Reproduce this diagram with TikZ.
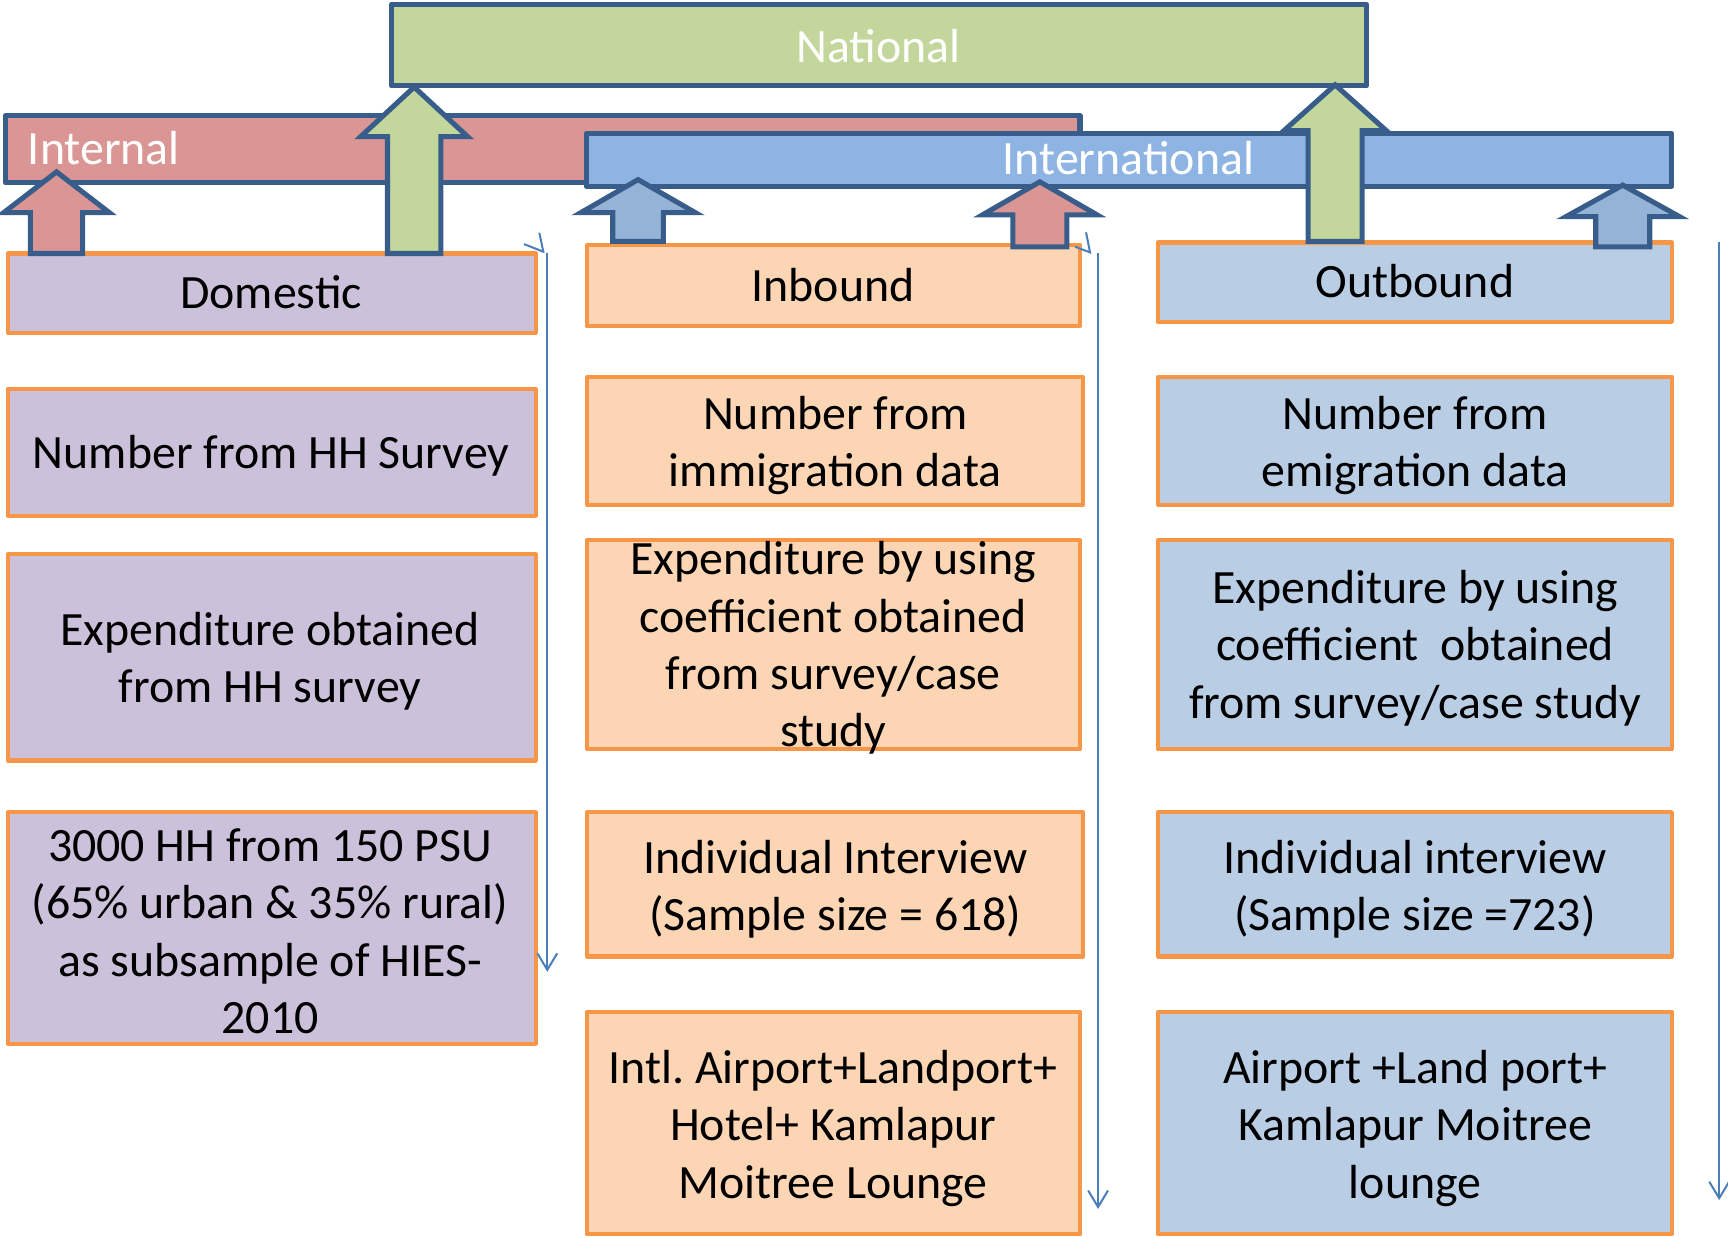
\documentclass[tikz,border=0pt]{standalone}
\usepackage{fontspec}
\setmainfont{Carlito}
\usetikzlibrary{arrows.meta}
\frenchspacing
\definecolor{dkb}{HTML}{385D8A}
\definecolor{org}{HTML}{F79646}
\definecolor{natg}{HTML}{C3D69B}
\definecolor{intr}{HTML}{D99694}
\definecolor{intlb}{HTML}{8EB4E3}
\definecolor{arrb}{HTML}{95B3D7}
\definecolor{domf}{HTML}{CCC1DA}
\definecolor{inbf}{HTML}{FCD5B5}
\definecolor{outf}{HTML}{B9CDE5}
\definecolor{thinb}{HTML}{4A7EBB}
\newcommand\mkbox[6]{%
  \node[#2, minimum width={(#5-#3)*0.5pt}, minimum height={(#6-#4)*0.5pt}] (#1) at ({(#3+#5)/2},{(#4+#6)/2}) {};}
\newcommand\blkarrow[8]{%
  \draw[blkarr, fill=#2] ({#3-#4},#8) coordinate (#1b) -- ({#3-#4},#7) -- ({#3-#5},#7) -- (#3,#6) coordinate (#1t) -- ({#3+#5},#7) -- ({#3+#4},#7) -- ({#3+#4},#8) -- cycle;}
\tikzset{
  bar/.style={draw=dkb, line width=2.3pt, inner sep=0pt, outer sep=0pt, line join=round},
  cbox/.style={draw=org, line width=1.9pt, inner sep=0pt, outer sep=0pt, line join=round},
  blkarr/.style={draw=dkb, line width=2.3pt, line join=miter},
  txt/.style={font=\fontsize{21.7pt}{26pt}\selectfont, align=center, inner sep=0pt, text=black},
  wtxt/.style={txt, text=white},
  thin/.style={draw=thinb, line width=0.9pt},
  thinarr/.style={thin, -{Straight Barb[length=7.5pt,width=9pt]}},
}
\begin{document}
\begin{tikzpicture}[x=0.5pt, y=-0.5pt]
\useasboundingbox (0,0) rectangle (1568,1123);
% top bars
\mkbox{int}{bar, fill=intr}{5}{105}{980}{166}
\mkbox{intl}{bar, fill=intlb}{532}{121}{1517}{169}
\mkbox{nat}{bar, fill=natg}{355}{4}{1240}{78}
\node[wtxt, anchor=base] (natt) at (797,57) {National};
\node[wtxt, anchor=base west] (intt) at (25,149) {Internal};
\node[wtxt, anchor=base] (intlt) at (1024,158) {International};
% column 1
\mkbox{dom}{cbox, fill=domf}{7}{230}{486}{302}
\mkbox{d1}{cbox, fill=domf}{7}{353}{486}{468}
\mkbox{d2}{cbox, fill=domf}{7}{503}{486}{690}
\mkbox{d3}{cbox, fill=domf}{7}{737}{486}{947}
\node[txt, anchor=base] (domt) at (246,280) {Domestic};
\node[txt, anchor=base] (d1t) at (246,425) {Number from HH Survey};
\node[txt] (d2t) at (245,600) {Expenditure obtained\\from HH survey};
\node[txt] (d3t) at (245,845) {3000 HH from 150 PSU\\(65\% urban \& 35\% rural)\\as subsample of HIES-\\2010};
% column 2
\mkbox{inb}{cbox, fill=inbf}{533}{222}{980}{296}
\mkbox{i1}{cbox, fill=inbf}{533}{342}{983}{458}
\mkbox{i2}{cbox, fill=inbf}{533}{490}{980}{680}
\mkbox{i3}{cbox, fill=inbf}{533}{737}{983}{868}
\mkbox{i4}{cbox, fill=inbf}{533}{918}{980}{1120}
\node[txt, anchor=base] (inbt) at (756,274) {Inbound};
\node[txt] (i1t) at (758,404) {Number from\\immigration data};
\node[txt] (i2t) at (756,588) {Expenditure by using\\coefficient obtained\\from survey/case\\study};
\node[txt] (i3t) at (758,807) {Individual Interview\\(Sample size = 618)};
\node[txt] (i4t) at (756,1024) {Intl. Airport+Landport+\\Hotel+ Kamlapur\\Moitree Lounge};
% column 3
\mkbox{outb}{cbox, fill=outf}{1051}{220}{1517}{292}
\mkbox{o1}{cbox, fill=outf}{1051}{342}{1517}{458}
\mkbox{o2}{cbox, fill=outf}{1051}{490}{1517}{680}
\mkbox{o3}{cbox, fill=outf}{1051}{737}{1517}{868}
\mkbox{o4}{cbox, fill=outf}{1051}{918}{1517}{1120}
\node[txt, anchor=base] (outbt) at (1284,270) {Outbound};
\node[txt] (o1t) at (1284,404) {Number from\\emigration data};
\node[txt] (o2t) at (1284,588) {Expenditure by using\\coefficient\ \ obtained\\from survey/case study};
\node[txt] (o3t) at (1284,807) {Individual interview\\(Sample size =723)};
\node[txt] (o4t) at (1284,1024) {Airport +Land port+\\Kamlapur Moitree\\lounge};
% block arrows
\blkarrow{a1}{intr}{51.3}{23.7}{48}{156}{193}{230}
\blkarrow{a2}{natg}{375.8}{24.2}{48.5}{79}{124}{230}
\blkarrow{a3}{arrb}{579}{23}{52}{163}{193}{219}
\blkarrow{a4}{intr}{943.5}{24.5}{52}{165}{195}{224}
\blkarrow{a5}{natg}{1211.5}{24.5}{46.5}{77}{118.6}{219}
\blkarrow{a6}{arrb}{1472.5}{24.5}{51.5}{168}{196.6}{224}
% thin arrows
\coordinate (t1s) at (496.6,229.3);
\coordinate (t1e) at (496.6,881.8);
\coordinate (t2s) at (996.4,229.3);
\coordinate (t2e) at (996.4,1097);
\coordinate (t3s) at (1560,219.3);
\coordinate (t3e) at (1560,1089);
\draw[thinarr] (t1s) -- (t1e);
\draw[thinarr] (t2s) -- (t2e);
\draw[thinarr] (t3s) -- (t3e);
\draw[thin, line join=miter] (475.5,221.5) -- (493,228.4) -- (489.4,211.2);
\draw[thin, line join=miter] (975.5,223.9) -- (989.1,229) -- (985.5,210.8);
\end{tikzpicture}
\end{document}
